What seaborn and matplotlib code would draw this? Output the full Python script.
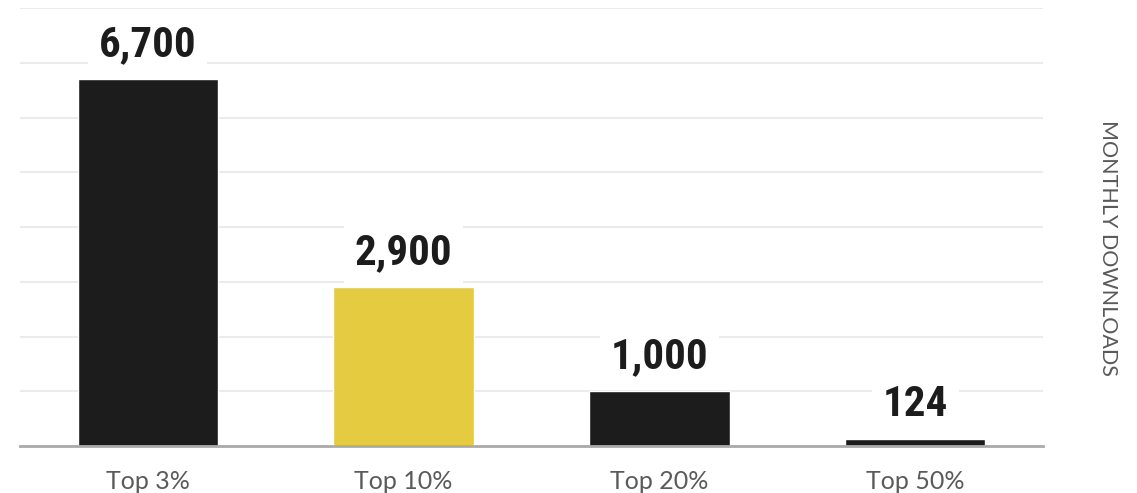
import matplotlib
matplotlib.use("Agg")
import matplotlib.pyplot as plt
from matplotlib import font_manager as fm
import seaborn as sns
import pandas as pd

categories = ["Top 3%", "Top 10%", "Top 20%", "Top 50%"]
downloads = [6700, 2900, 1000, 124]
labels = ["6,700", "2,900", "1,000", "124"]
colors = ["#1c1c1c", "#e5cb3f", "#1c1c1c", "#1c1c1c"]

df = pd.DataFrame({"cat": categories, "val": downloads})

sns.set_theme(style="white")
plt.rcParams["font.family"] = ["Lato", "DejaVu Sans"]

names = sorted({f.name for f in fm.fontManager.ttflist})
cond = None
for cand in ["Roboto Condensed", "Liberation Sans Narrow", "DejaVu Sans Condensed", "Open Sans Condensed"]:
    if cand in names:
        cond = cand
        break

fig = plt.figure(figsize=(11.37, 4.93), dpi=100)
ax = fig.add_axes([20/1137, 1-446/493, 1023/1137, 438/493])

sns.barplot(data=df, x="cat", y="val", hue="cat", palette=colors, legend=False,
            width=0.55, saturation=1, ax=ax, zorder=3)

ax.set_xlim(-0.5, 3.5)
ax.set_ylim(0, 8000)
ax.set_yticks(range(0, 8001, 1000))
ax.yaxis.grid(True, color="#ebebeb", linewidth=1.5, zorder=0)
ax.set_axisbelow(True)
ax.tick_params(axis="y", left=False, labelleft=False)
ax.tick_params(axis="x", bottom=False, labelsize=18, labelcolor="#5a5a5a", pad=11)
for s in ["top", "left", "right"]:
    ax.spines[s].set_visible(False)
ax.spines["bottom"].set_color("#aaaaaa")
ax.spines["bottom"].set_linewidth(2)
ax.spines["bottom"].set_zorder(4)
ax.set_xlabel("")
ax.set_ylabel("")

fam = [cond, "DejaVu Sans"] if cond else ["DejaVu Sans"]
for i, (v, lab) in enumerate(zip(downloads, labels)):
    ax.annotate(lab, xy=(i, v), xytext=(0, 10), textcoords="offset points",
                ha="center", va="bottom", fontsize=31, fontweight="bold",
                family=fam, color="#1c1c1c", zorder=5,
                bbox=dict(boxstyle="square,pad=0.25", fc="white", ec="none"))

fig.text(1108/1137, 0.497, "MONTHLY DOWNLOADS", rotation=-90, ha="center", va="center",
         fontsize=15.5, color="#5a5a5a")

fig.savefig("out.png", dpi=100)
